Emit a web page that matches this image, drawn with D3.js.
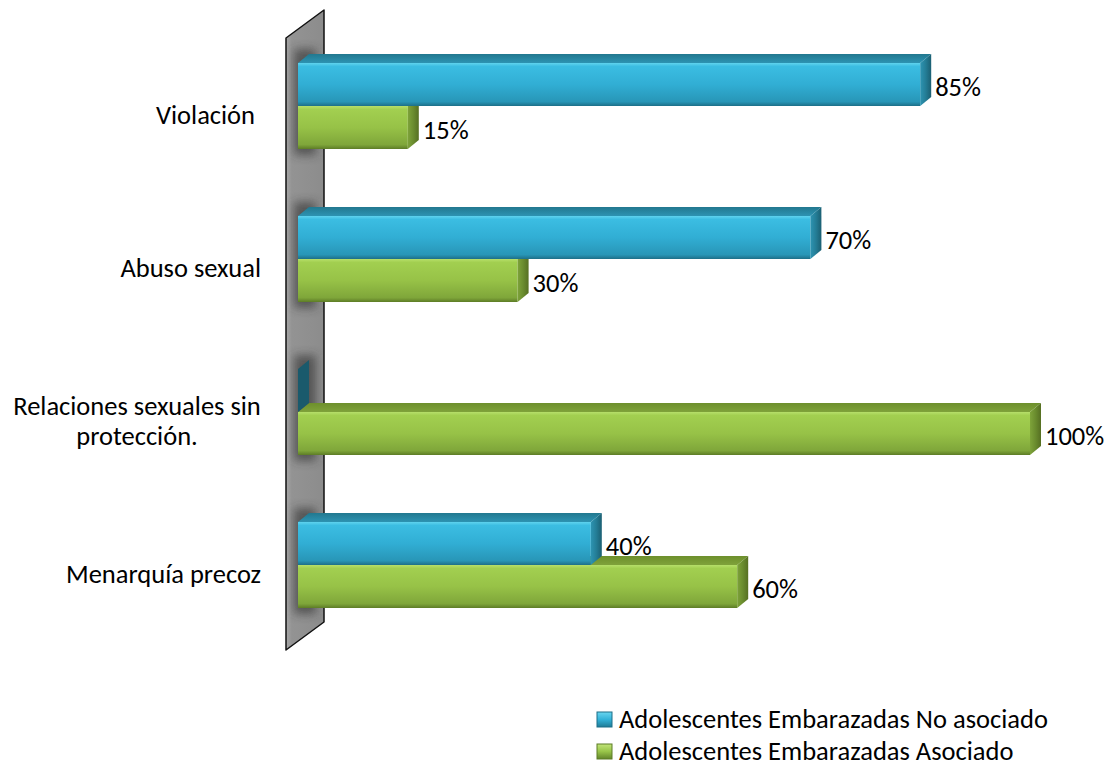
<!DOCTYPE html>
<html>
<head>
<meta charset="utf-8">
<script src="https://cdn.jsdelivr.net/npm/d3@7"></script>
<style>
  html, body { margin: 0; padding: 0; background: #fff; }
  svg text { font-family: Calibri, Carlito, Lato, "Open Sans", sans-serif; fill: #000; white-space: pre; }
</style>
</head>
<body>
<svg id="chart" width="1117" height="769"></svg>
<script>
// ---- data ----
const categories = ["Violación ", "Abuso sexual", "Relaciones sexuales sin protección.", "Menarquía precoz"];
const categoryLines = [["Violación "], ["Abuso sexual"], ["Relaciones sexuales sin", "protección."], ["Menarquía precoz"]];
const seriesNames = ["Adolescentes Embarazadas No asociado", "Adolescentes Embarazadas Asociado"];
const noAsociado = [85, 70, 0, 40];
const asociado = [15, 30, 100, 60];
const valueLabels = [["85%", "70%", "", "40%"], ["15%", "30%", "100%", "60%"]];

const svg = d3.select("#chart");
const defs = svg.append("defs");

const FONT = 26.5;
const depth = { dx: 11, dy: -9 };

// scales
const x = d3.scaleLinear().domain([0, 100]).range([298, 1030]);
const y0 = d3.scaleBand().domain(categories).range([29.5, 641.5]).padding(0);
const y1 = d3.scaleBand().domain(seriesNames).range([33.5, 119.5]).padding(0);

// gradients
function vgrad(id, stops, x1 = 0, y1g = 0, x2 = 0, y2 = 1) {
  const g = defs.append("linearGradient").attr("id", id)
    .attr("x1", x1).attr("y1", y1g).attr("x2", x2).attr("y2", y2);
  stops.forEach(([o, c]) => g.append("stop").attr("offset", o).attr("stop-color", c));
}
vgrad("blueFront", [[0, "#5fd3ee"], [0.08, "#3bbde2"], [0.5, "#31aed4"], [0.9, "#2896b7"], [1, "#1d6f88"]]);
vgrad("blueTop", [[0, "#22788f"], [1, "#2d93b2"]]);
vgrad("blueSide", [[0, "#2d94b2"], [0.5, "#247d96"], [1, "#1b5f72"]], 0, 0, 1, 0);
vgrad("greenFront", [[0, "#b6df6a"], [0.08, "#a2cf50"], [0.5, "#97c247"], [0.9, "#7fa63a"], [1, "#5d7c26"]]);
vgrad("greenTop", [[0, "#6d8f2c"], [1, "#7fa23a"]]);
vgrad("greenSide", [[0, "#7ea33a"], [0.5, "#6a8c2e"], [1, "#566f22"]], 0, 0, 1, 0);
vgrad("wallGrad", [[0, "#a8a8a8"], [0.15, "#939393"], [1, "#8c8c8c"]], 0, 0, 1, 0);
vgrad("legBlue", [[0, "#6ad6f0"], [0.5, "#33b2d8"], [1, "#1f7b96"]]);
vgrad("legGreen", [[0, "#c2e57a"], [0.5, "#98c449"], [1, "#62842a"]]);

const blur = defs.append("filter").attr("id", "soft").attr("x", "-100%").attr("y", "-50%").attr("width", "300%").attr("height", "200%");
blur.append("feGaussianBlur").attr("stdDeviation", 5);

// ---- back wall ----
const wallX0 = 286, wallX1 = 324, wallTop = 38, wallBot = 650, wallRise = 28;
const wallPts = [[wallX0, wallTop], [wallX1, wallTop - wallRise], [wallX1, wallBot - wallRise], [wallX0, wallBot]];
defs.append("clipPath").attr("id", "wallClip").append("polygon")
  .attr("points", wallPts.map(p => p.join(",")).join(" "));
svg.append("polygon")
  .attr("points", wallPts.map(p => p.join(",")).join(" "))
  .attr("fill", "url(#wallGrad)");
// soft shadows of bars on the wall
const shadowG = svg.append("g").attr("clip-path", "url(#wallClip)");
categories.forEach(cat => {
  const top = y0(cat) + y1.range()[0] - 14;
  const bot = y0(cat) + y1.range()[1] + 6;
  shadowG.append("rect").attr("x", 294).attr("y", top).attr("width", 22).attr("height", bot - top)
    .attr("fill", "#2e2e2e").attr("opacity", 0.6).attr("filter", "url(#soft)");
});
svg.append("polygon")
  .attr("points", wallPts.map(p => p.join(",")).join(" "))
  .attr("fill", "none")
  .attr("stroke", "#111").attr("stroke-width", 1.5).attr("stroke-linejoin", "round");

// ---- bars ----
const seriesData = [
  { name: seriesNames[0], values: noAsociado, labels: valueLabels[0], front: "url(#blueFront)", top: "url(#blueTop)", side: "url(#blueSide)" },
  { name: seriesNames[1], values: asociado, labels: valueLabels[1], front: "url(#greenFront)", top: "url(#greenTop)", side: "url(#greenSide)" }
];

const barsG = svg.append("g");
[1, 0].forEach(si => {
  const s = seriesData[si];
  categories.forEach((cat, ci) => {
    const v = s.values[ci];
    const yT = y0(cat) + y1(s.name);
    const yB = yT + y1.bandwidth();
    const x0 = x(0), xv = x(v);
    const g = barsG.append("g");
    if (v > 0) {
      g.append("polygon")
        .attr("points", [[x0, yT], [x0 + depth.dx, yT + depth.dy], [xv + depth.dx, yT + depth.dy], [xv, yT]].map(p => p.join(",")).join(" "))
        .attr("fill", s.top);
      g.append("rect")
        .attr("x", x0).attr("y", yT).attr("width", xv - x0).attr("height", yB - yT)
        .attr("fill", s.front);
    }
    g.append("polygon")
      .attr("points", [[xv, yT], [xv + depth.dx, yT + depth.dy], [xv + depth.dx, yB + depth.dy], [xv, yB]].map(p => p.join(",")).join(" "))
      .attr("fill", v > 0 ? s.side : "#1a5a6c");
  });
});

// ---- value labels ----
[0, 1].forEach(si => {
  const s = seriesData[si];
  categories.forEach((cat, ci) => {
    if (!s.labels[ci]) return;
    const yC = y0(cat) + y1(s.name) + y1.bandwidth() / 2;
    svg.append("text")
      .attr("x", x(s.values[ci]) + depth.dx + 4)
      .attr("y", yC + 11)
      .attr("font-size", FONT)
      .text(s.labels[ci]);
  });
});

// ---- category labels ----
const lineH = 30;
categories.forEach((cat, ci) => {
  const lines = categoryLines[ci];
  const c = y0(cat) + y0.bandwidth() / 2;
  const t = svg.append("text")
    .attr("font-size", FONT)
    .attr("text-anchor", lines.length > 1 ? "middle" : "end");
  lines.forEach((ln, i) => {
    t.append("tspan")
      .attr("x", lines.length > 1 ? 137 : 261)
      .attr("y", c + 10 + (i - (lines.length - 1) / 2) * lineH + 8)
      .text(ln);
  });
});

// ---- legend ----
const legend = svg.append("g").attr("transform", "translate(597,712)");
seriesNames.forEach((nm, i) => {
  const g = legend.append("g").attr("transform", `translate(0,${i * 32})`);
  g.append("rect").attr("x", 0).attr("y", 0).attr("width", 15).attr("height", 15)
    .attr("fill", i === 0 ? "url(#legBlue)" : "url(#legGreen)")
    .attr("stroke", i === 0 ? "#1d6f88" : "#5d7c26").attr("stroke-width", 1);
  g.append("text").attr("x", 22).attr("y", 16).attr("font-size", FONT).text(nm);
});
</script>
</body>
</html>
